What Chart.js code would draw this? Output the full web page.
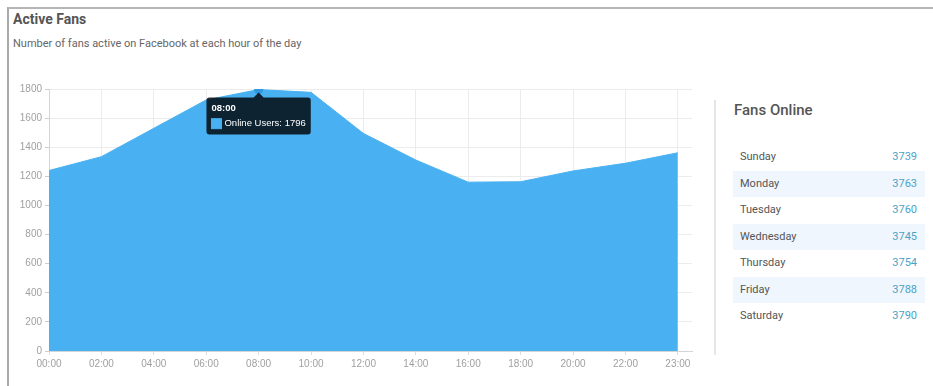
<!DOCTYPE html>
<html>
<head>
<meta charset="utf-8">
<script src="https://cdn.jsdelivr.net/npm/chart.js@4"></script>
<style>
  body { margin: 0; background: #fff; font-family: Roboto, "Liberation Sans", sans-serif; }
  .card { position: absolute; left: 7px; top: 7px; width: 926px; height: 379px;
          border-left: 2px solid #aaa; border-top: 2px solid #b5b5b5; }
  .title { position: absolute; left: 13px; top: 11px; font-size: 14px; font-weight: bold; color: #555; }
  .subtitle { position: absolute; left: 13px; top: 37px; font-size: 11px; color: #666; }
  #c { position: absolute; left: 12px; top: 80px; }
  .divider { position: absolute; left: 714px; top: 100px; width: 2px; height: 255px; background: #e6e6e6; }
  .side-title { position: absolute; left: 734px; top: 101px; font-size: 15px; font-weight: 500; color: #555; }
  #days { position: absolute; left: 733px; top: 144px; width: 192px; }
  .row { height: 26.5px; line-height: 26.5px; font-size: 11px; color: #555; position: relative; }
  .row:nth-child(even) { background: #f0f6fd; }
  .row .day { position: absolute; left: 7px; }
  .row .val { position: absolute; right: 8px; color: #4aa3c4; }
</style>
</head>
<body>
<div class="card"></div>
<div class="title">Active Fans</div>
<div class="subtitle">Number of fans active on Facebook at each hour of the day</div>
<canvas id="c" width="690" height="300"></canvas>
<div class="divider"></div>
<div class="side-title">Fans Online</div>
<div id="days"></div>
<script>
// chart data
const hours = ['00:00', '02:00', '04:00', '06:00', '08:00', '10:00', '12:00',
               '14:00', '16:00', '18:00', '20:00', '22:00', '23:00'];
const onlineUsers = [1240, 1335, 1530, 1725, 1796, 1777, 1495, 1312, 1160, 1163, 1237, 1290, 1362];
const yTicks = [0, 200, 400, 600, 800, 1000, 1200, 1400, 1600, 1800];

// side table
const days = ['Sunday', 'Monday', 'Tuesday', 'Wednesday', 'Thursday', 'Friday', 'Saturday'];
const fansOnline = [3739, 3763, 3760, 3745, 3754, 3788, 3790];

const list = document.getElementById('days');
days.forEach(function (d, i) {
    const row = document.createElement('div');
    row.className = 'row';
    row.innerHTML = '<span class="day">' + d + '</span><span class="val">' + fansOnline[i] + '</span>';
    list.appendChild(row);
});

const blue = '#49b1f2';
const tickFont = { family: '"Liberation Sans", Arial, sans-serif', size: 10 };

const chart = new Chart(document.getElementById('c'), {
    type: 'line',
    data: {
        datasets: [{
            label: 'Online Users',
            data: onlineUsers.map(function (v, i) { return { x: i, y: v }; }),
            backgroundColor: blue,
            borderColor: blue,
            borderWidth: 1,
            fill: 'origin',
            tension: 0,
            pointRadius: 0,
            pointHoverRadius: 4,
            pointHoverBackgroundColor: '#2f97e0',
            pointHoverBorderColor: '#2f97e0'
        }]
    },
    options: {
        responsive: false,
        animation: false,
        events: [],
        layout: { padding: { top: 9, right: 10, left: 0, bottom: 0 } },
        interaction: { mode: 'index', intersect: false },
        scales: {
            x: {
                type: 'linear',
                min: 0,
                max: 12.27,
                afterFit: function (s) { s.height = 29; },
                grid: { color: '#ececec', tickColor: '#ddd', tickLength: 4 },
                border: { color: '#d5d5d5' },
                ticks: {
                    stepSize: 1,
                    includeBounds: false,
                    autoSkip: false,
                    maxRotation: 0,
                    padding: 3,
                    color: '#a0a0a0',
                    font: tickFont,
                    callback: function (v) { return hours[v]; }
                }
            },
            y: {
                min: yTicks[0],
                max: yTicks[yTicks.length - 1],
                afterFit: function (s) { s.width = 37; },
                grid: { color: '#ececec', tickColor: '#ccc', tickLength: 4 },
                border: { color: '#d5d5d5' },
                ticks: {
                    stepSize: yTicks[1] - yTicks[0],
                    padding: 3,
                    color: '#a0a0a0',
                    font: tickFont,
                    callback: function (v) { return String(v); }
                }
            }
        },
        plugins: {
            legend: { display: false },
            tooltip: {
                backgroundColor: 'rgba(0,0,0,0.8)',
                padding: 5,
                caretSize: 5,
                caretPadding: 3,
                cornerRadius: 3,
                boxWidth: 10,
                boxHeight: 10,
                boxPadding: 1,
                multiKeyBackground: blue,
                titleFont: { family: '"Liberation Sans", Arial, sans-serif', size: 9.5, weight: 'bold' },
                bodyFont: { family: '"Liberation Sans", Arial, sans-serif', size: 9.5 },
                titleMarginBottom: 4,
                callbacks: {
                    title: function (items) { return hours[items[0].dataIndex]; },
                    label: function (item) { return 'Online Users: ' + item.raw.y; },
                    labelColor: function () { return { borderColor: blue, backgroundColor: blue }; }
                }
            }
        }
    }
});

// show the hovered point at 08:00 like the reference
const active = [{ datasetIndex: 0, index: 4 }];
const pt = chart.getDatasetMeta(0).data[4];
chart.setActiveElements(active);
chart.tooltip.setActiveElements(active, { x: pt.x, y: pt.y });
chart.update();
</script>
</body>
</html>
